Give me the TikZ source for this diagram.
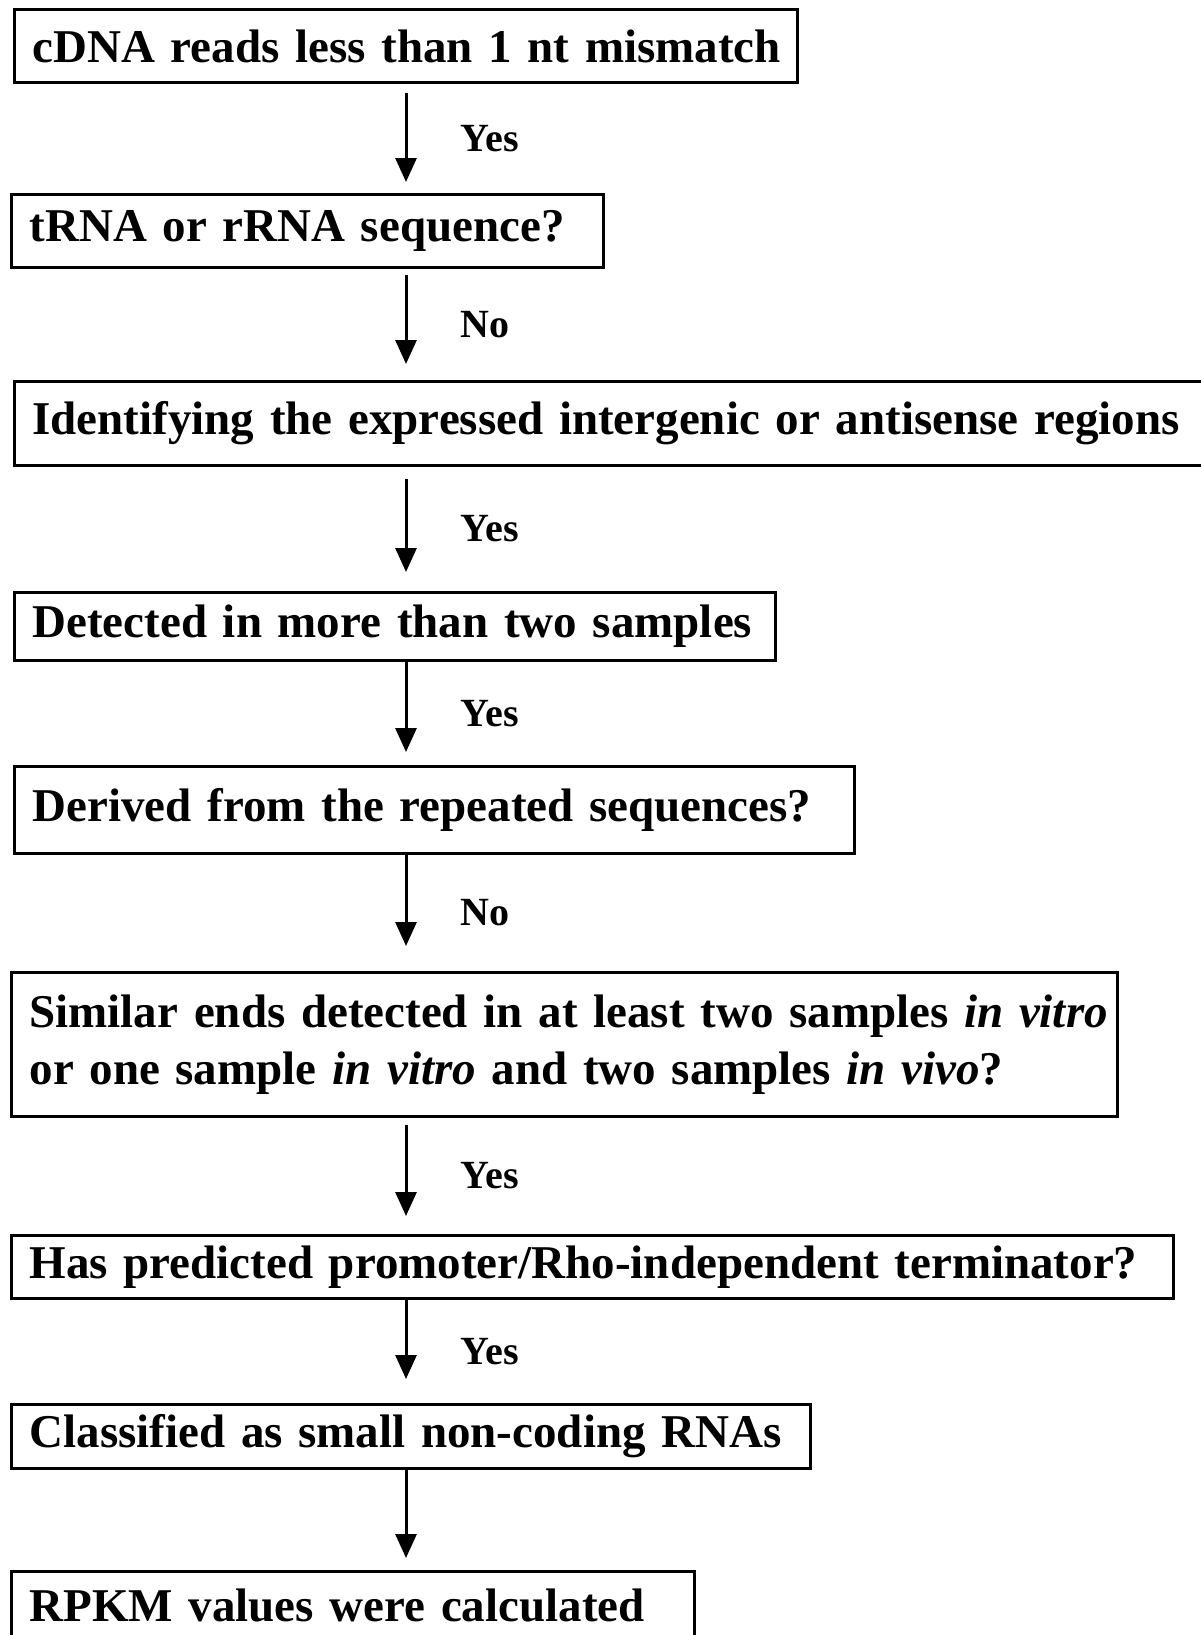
\documentclass[tikz,border=0pt]{standalone}
\usepackage{fontspec}
\setmainfont{Liberation Serif}
\usetikzlibrary{arrows.meta, positioning, calc}
\tikzset{
    stepbox/.style={rectangle, draw, line width=3pt, anchor=north west, align=left, inner xsep=18pt, inner ysep=0pt, font=\fontsize{47}{57}\selectfont\bfseries},
    line/.style={draw, -{Triangle[length=24pt, width=21pt]}, line width=3pt},
    answer/.style={anchor=west, xshift=50pt, font=\fontsize{40}{48}\selectfont\bfseries},
}

\begin{document}
\begin{tikzpicture}[x=1pt, y=1pt]

    \useasboundingbox (0,0) rectangle (1200,-1635);

    % Filtering steps
    \node[stepbox, text width=747, minimum height=73] (cdna) at (13,-8) {\mbox{cDNA reads less than 1 nt mismatch}};
    \node[stepbox, text width=556, minimum height=73] (trna) at (10,-193) {\mbox{tRNA or rRNA sequence?}};
    \node[stepbox, text width=1160, minimum height=84] (inter) at (13,-380) {\mbox{Identifying the expressed intergenic or antisense regions}};
    \node[stepbox, text width=725, minimum height=68] (detect) at (13,-591) {\mbox{Detected in more than two samples}};
    \node[stepbox, text width=804, minimum height=87] (derived) at (13,-765) {\mbox{Derived from the repeated sequences?}};
    \node[stepbox, text width=1070, minimum height=144] (similar) at (10,-971) {\mbox{Similar ends detected in at least two samples \textit{in vitro}}\\\mbox{or one sample \textit{in vitro} and two samples \textit{in vivo}?}};
    \node[stepbox, text width=1126, minimum height=63] (promoter) at (10,-1234) {\mbox{Has predicted promoter/Rho-independent terminator?}};
    \node[stepbox, text width=763, minimum height=64] (classified) at (10,-1403) {\mbox{Classified as small non-coding RNAs}};
    \node[stepbox, text width=647, minimum height=68] (rpkm) at (10,-1570) {\mbox{RPKM values were calculated}};

    % Arrows
    \coordinate (col) at (406,0);
    \draw[line, shorten <=9pt, shorten >=11pt] (cdna.south -| col) -- (trna.north -| col) node[midway, answer] (yes1) {Yes};
    \draw[line, shorten <=6pt, shorten >=16pt] (trna.south -| col) -- (inter.north -| col) node[midway, answer] (no1) {No};
    \draw[line, shorten <=12pt, shorten >=19pt] (inter.south -| col) -- (detect.north -| col) node[midway, answer] (yes2) {Yes};
    \draw[line, shorten >=13pt] (detect.south -| col) -- (derived.north -| col) node[midway, answer] (yes3) {Yes};
    \draw[line, shorten >=25pt] (derived.south -| col) -- (similar.north -| col) node[midway, answer] (no2) {No};
    \draw[line, shorten <=7pt, shorten >=18pt] (similar.south -| col) -- (promoter.north -| col) node[midway, answer] (yes4) {Yes};
    \draw[line, shorten >=24pt] (promoter.south -| col) -- (classified.north -| col) node[midway, answer] (yes5) {Yes};
    \draw[line, shorten >=12pt] (classified.south -| col) -- (rpkm.north -| col);

\end{tikzpicture}
\end{document}
